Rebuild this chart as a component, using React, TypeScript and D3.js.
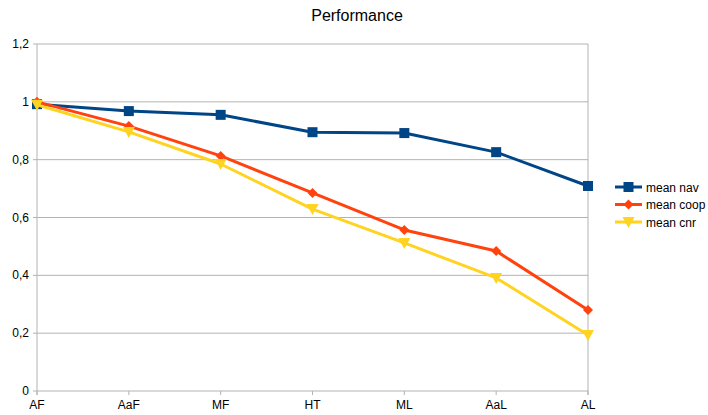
import React from "react";
import * as d3 from "d3";

const categories = ["AF", "AaF", "MF", "HT", "ML", "AaL", "AL"];
const meanNav = [0.992, 0.968, 0.955, 0.895, 0.892, 0.826, 0.709];
const meanCoop = [1.0, 0.916, 0.813, 0.685, 0.557, 0.484, 0.28];
const meanCnr = [0.99, 0.896, 0.785, 0.629, 0.512, 0.391, 0.194];
const yTicks = [0, 0.2, 0.4, 0.6, 0.8, 1, 1.2];
const seriesNames = ["mean nav", "mean coop", "mean cnr"];

const W = 708, H = 415;
const L = 37, R = 588, T = 44, B = 391;
const font = "'Liberation Sans', Arial, sans-serif";

export default function App() {
  const x = d3.scalePoint<string>().domain(categories).range([L, R]);
  const y = d3.scaleLinear().domain([0, 1.2]).range([B, T]);
  const line = d3.line<number>().x((_, i) => x(categories[i])!).y((d) => y(d));
  const series = [
    { name: seriesNames[0], data: meanNav, color: "#004586", marker: "square" },
    { name: seriesNames[1], data: meanCoop, color: "#ff420e", marker: "diamond" },
    { name: seriesNames[2], data: meanCnr, color: "#ffd320", marker: "tri" },
  ];
  const marker = (m: string, cx: number, cy: number, color: string, key: any) => {
    if (m === "square") return <rect key={key} x={cx - 5} y={cy - 5} width={10} height={10} fill={color} />;
    if (m === "diamond") return <path key={key} d={`M${cx},${cy - 5}L${cx + 5},${cy}L${cx},${cy + 5}L${cx - 5},${cy}Z`} fill={color} />;
    return <path key={key} d={`M${cx - 6},${cy - 5}L${cx + 6},${cy - 5}L${cx},${cy + 6}Z`} fill={color} />;
  };
  const fmt = (v: number) => (v === 0 ? "0" : String(v).replace(".", ","));
  return (
    <svg width={W} height={H} style={{ position: "absolute", left: 0, top: 0, background: "#fff" }} fontFamily={font}>
      <rect width={W} height={H} fill="#fff" />
      <text x={357} y={21} textAnchor="middle" fontSize={16} fill="#000">Performance</text>
      {yTicks.map((t) => (
        <g key={t}>
          <line x1={L - 4} x2={R} y1={y(t)} y2={y(t)} stroke="#b3b3b3" strokeWidth={1} />
          <text x={L - 8} y={y(t) + 4} textAnchor="end" fontSize={12} fill="#000">{fmt(t)}</text>
        </g>
      ))}
      <line x1={L} x2={L} y1={T} y2={B + 4} stroke="#b3b3b3" />
      <line x1={R} x2={R} y1={T} y2={B + 4} stroke="#b3b3b3" />
      {categories.map((c) => (
        <g key={c}>
          <line x1={x(c)!} x2={x(c)!} y1={B} y2={B + 4} stroke="#b3b3b3" />
          <text x={x(c)!} y={B + 18} textAnchor="middle" fontSize={12} fill="#000">{c}</text>
        </g>
      ))}
      {series.map((s) => (
        <g key={s.name}>
          <path d={line(s.data)!} fill="none" stroke={s.color} strokeWidth={3} strokeLinejoin="round" />
          {s.data.map((v, i) => marker(s.marker, x(categories[i])!, y(v), s.color, i))}
        </g>
      ))}
      {series.map((s, i) => {
        const ly = 187 + i * 17.5;
        return (
          <g key={"l" + s.name}>
            <line x1={615} x2={642} y1={ly} y2={ly} stroke={s.color} strokeWidth={3} />
            {marker(s.marker, 628.5, ly, s.color, "m")}
            <text x={646} y={ly + 4.5} fontSize={12} fill="#000">{s.name}</text>
          </g>
        );
      })}
    </svg>
  );
}
